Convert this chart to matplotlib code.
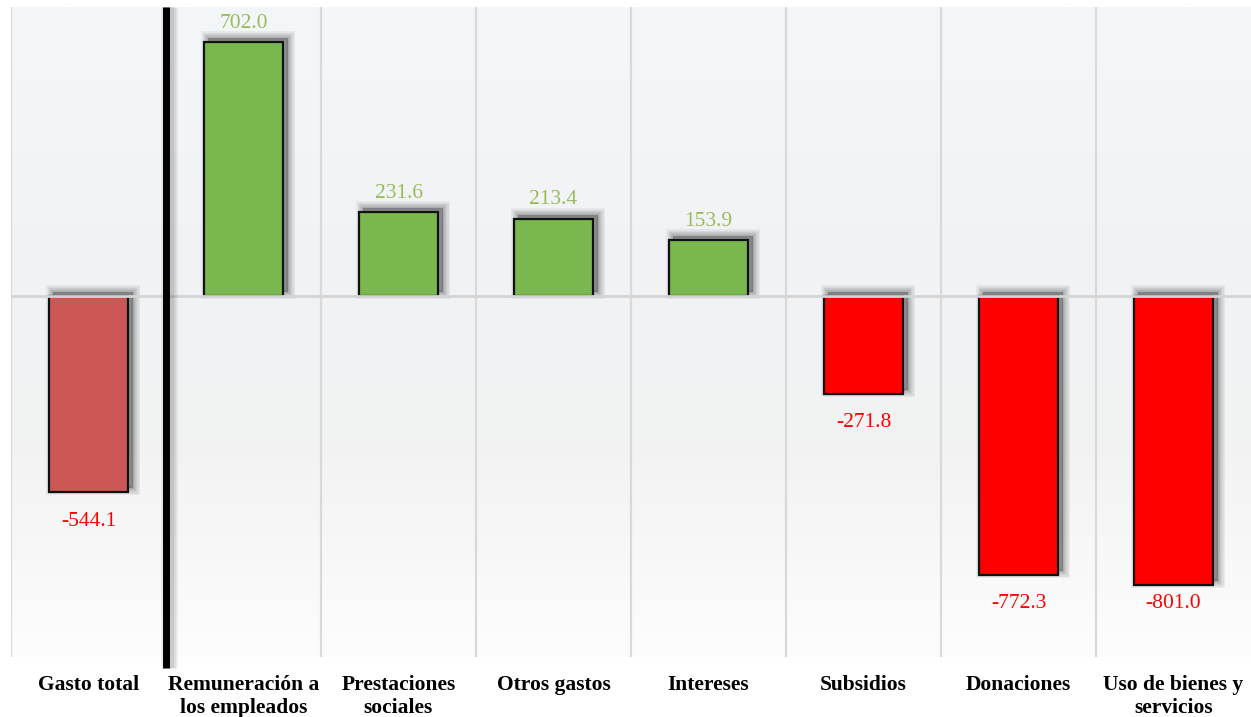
import numpy as np
import matplotlib
matplotlib.use("Agg")
import matplotlib.pyplot as plt
import matplotlib.patheffects as pe
from matplotlib.colors import LinearSegmentedColormap

# data
categories = ["Gasto total", "Remuneración a\nlos empleados", "Prestaciones\nsociales",
              "Otros gastos", "Intereses", "Subsidios", "Donaciones",
              "Uso de bienes y\nservicios"]
values = [-544.1, 702.0, 231.6, 213.4, 153.9, -271.8, -772.3, -801.0]
bar_colors = ["#cd5754", "#7ab74f", "#7ab74f", "#7ab74f", "#7ab74f",
              "#ff0000", "#ff0000", "#ff0000"]
label_colors = ["#ff0000", "#9bbb59", "#9bbb59", "#9bbb59", "#9bbb59",
                "#ff0000", "#ff0000", "#ff0000"]

plt.rcParams['font.family'] = ['Liberation Serif', 'DejaVu Serif']

fig = plt.figure(figsize=(12.51, 7.17), dpi=100)
ax = fig.add_axes([11 / 1251, 60 / 717, 1240 / 1251, 650 / 717])

x = np.arange(len(categories))
ax.set_xlim(-0.5, len(categories) - 0.5)
ax.set_ylim(-1000, 800)

# background gradient
cmap = LinearSegmentedColormap.from_list("bg", ["#fdfdfd", "#f2f2f2", "#f1f3f6", "#f4f7fa"])
grad = np.linspace(0, 1, 256).reshape(-1, 1)
ax.imshow(grad, extent=(-0.5, len(categories) - 0.5, -1000, 800), origin="lower",
          aspect="auto", cmap=cmap, zorder=0)

# vertical separators
for xv in np.arange(-0.5, len(categories) - 0.5, 1.0):
    if xv == 0.5:
        continue
    ax.axvline(xv, color="#d9d9d9", lw=1.6, zorder=1)

# shadows: stacked translucent strokes, shifted up and right
shadow = [pe.SimplePatchShadow(offset=(3, 3), shadow_rgbFace="k", alpha=0.05, linewidth=w)
          for w in (10, 8, 6, 4.5, 3, 1.5)] + [pe.Normal()]

bars = ax.bar(x, values, width=0.515, color=bar_colors, edgecolor="#111111",
              linewidth=1.6, zorder=3)
for b in bars:
    b.set_path_effects(shadow)

# zero line
ax.axhline(0, color="#d4d4d4", lw=2, zorder=4)

# thick separator after total
line_shadow = [pe.SimpleLineShadow(offset=(2, 0), shadow_color="k", alpha=0.07, linewidth=w)
               for w in (12, 9, 7)] + [pe.Normal()]
ax.plot([0.5, 0.5], [800, -1030], color="black", lw=5, zorder=5, clip_on=False,
        solid_capstyle="butt", path_effects=line_shadow)

# value labels (negative ones are kept above the bottom edge)
for xi, v, c in zip(x, values, label_colors):
    if v >= 0:
        ax.annotate(f"{v:.1f}", (xi, v), xytext=(0, 7), textcoords="offset points",
                    ha="center", va="bottom", color=c, fontsize=15.5, zorder=6)
    else:
        ax.annotate(f"{v:.1f}", (xi, max(v, -772.3)), xytext=(0, -14), textcoords="offset points",
                    ha="center", va="top", color=c, fontsize=15.5, zorder=6)

ax.set_xticks(x)
ax.set_xticklabels(categories, fontsize=15.5, fontweight="bold", linespacing=1.22)
ax.tick_params(axis="x", length=0, pad=13)
ax.set_yticks([])
for s in ax.spines.values():
    s.set_visible(False)

fig.savefig("out.png", dpi=100, facecolor="white")
